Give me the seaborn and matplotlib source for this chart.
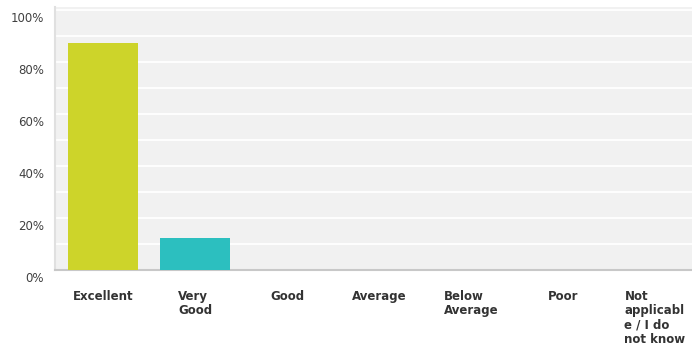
import matplotlib
matplotlib.use("Agg")
import matplotlib.pyplot as plt
import matplotlib.transforms as mtransforms
import pandas as pd
import seaborn as sns

categories = ["Excellent", "Very\nGood", "Good", "Average", "Below\nAverage", "Poor",
              "Not\napplicabl\ne / I do\nnot know"]
percent = [87.5, 12.5, 0, 0, 0, 0, 0]
bar_colors = ["#cdd42a", "#2cbfbf", "#e8823a", "#8f5fa8", "#e0527a", "#5aa0d8", "#999999"]

df = pd.DataFrame({"answer": categories, "pct": percent})

sns.set_theme(style="white")
plt.rcParams["font.family"] = ["DejaVu Sans"]

fig = plt.figure(figsize=(6.92, 3.51), dpi=100)
ax = fig.add_axes([55 / 692, 1 - 270 / 351, 1 - 55 / 692, 263 / 351])
ax.set_facecolor("#f1f1f1")

sns.barplot(data=df, x="answer", y="pct", hue="answer", palette=bar_colors,
            saturation=1, linewidth=0, legend=False, width=0.76, ax=ax, zorder=3)

ax.set_ylim(0, 100 * 263 / 260)
# category slots are ~92px wide, the last one runs past the right edge
ax.set_xlim(-0.5 - 2 / 92, -0.5 - 2 / 92 + 637 / 92)
ax.set_yticks(range(0, 101, 10))
ax.set_yticklabels([f"{v}%" if v % 20 == 0 else "" for v in range(0, 101, 10)],
                   fontsize=8.5, color="#404040")
ax.yaxis.grid(True, color="white", linewidth=1.3, zorder=0)
ax.tick_params(axis="y", length=0, pad=8)
offset = mtransforms.ScaledTranslation(0, -7 / 100, fig.dpi_scale_trans)
for lbl in ax.get_yticklabels():
    lbl.set_transform(lbl.get_transform() + offset)

ax.set_xticks(range(len(categories)))
ax.set_xticklabels(categories, fontsize=8.5, fontweight="bold", color="#333333",
                   ha="center", va="top", multialignment="left", linespacing=1.12)
ax.tick_params(axis="x", length=0, pad=14.5)

ax.set_xlabel("")
ax.set_ylabel("")
for side in ["top", "right"]:
    ax.spines[side].set_visible(False)
ax.spines["left"].set_color("#e0e0e0")
ax.spines["left"].set_linewidth(1.5)
ax.spines["bottom"].set_color("#c8c8c8")
ax.spines["bottom"].set_linewidth(1.5)

fig.savefig("out.png", dpi=100)
